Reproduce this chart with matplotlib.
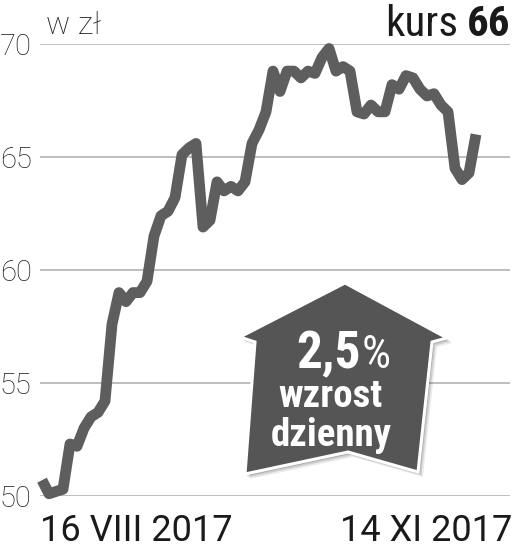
import matplotlib.pyplot as plt
from matplotlib import font_manager as fm
from matplotlib.patches import Polygon

# kurs zamkniecia, 16 VIII - 14 XI 2017 (odczyt z wykresu)
price = [50.7, 50.1, 50.2, 50.3, 52.3, 52.2, 53.0, 53.5, 53.7, 54.2,
         57.6, 59.0, 58.6, 59.0, 59.0, 59.5, 61.5, 62.4, 62.6, 63.2,
         65.1, 65.4, 65.6, 61.9, 62.2, 63.9, 63.5, 63.7, 63.5, 63.9,
         65.6, 66.2, 67.0, 68.8, 67.9, 68.8, 68.8, 68.5, 68.8, 68.7,
         69.4, 69.8, 68.8, 69.0, 68.8, 67.0, 66.9, 67.3, 67.0, 67.0,
         68.2, 68.0, 68.6, 68.5, 68.0, 67.7, 67.8, 67.3, 67.0, 64.5,
         64.0, 64.3, 66.0]
yticks = [50, 55, 60, 65, 70]
date_first = '16 VIII 2017'
date_last = '14 XI 2017'
unit = 'w zł'
kurs_label = 'kurs'
kurs_value = '66'
change = '2,5'
change_lines = ['wzrost', 'dzienny']

W, H = 514, 549

# waski krój do napisow; jesli go brak - DejaVu w mniejszym rozmiarze
have = {f.name for f in fm.fontManager.ttflist}
narrow = 'DejaVu Sans'
for n in ['Roboto Condensed', 'Archivo Narrow', 'Asap Condensed',
          'Liberation Sans Narrow']:
    if n in have:
        narrow = n
        break
k = 1.0 if narrow != 'DejaVu Sans' else 0.78
light = ['Roboto', 'DejaVu Sans']


def fx(x):
    return x / W


def fy(y):
    return 1 - y / H


fig = plt.figure(figsize=(W / 100, H / 100), dpi=100)
ax = fig.add_axes([fx(40), 53 / H, 470 / W, 452 / H])

ax.plot(range(len(price)), price, color='#5e5e5e', lw=7.8,
        solid_joinstyle='round', solid_capstyle='butt', clip_on=False, zorder=3)
for y in yticks:
    ax.axhline(y, color='#acacac', lw=1.1, zorder=1)

ax.set_ylim(50, 70)
ax.set_xlim(-2 / 7, 62 + 34 / 7)
ax.set_xticks([])
ax.set_yticks(yticks)
ax.set_yticklabels([str(t) for t in yticks], family=light, fontweight='light',
                   fontsize=21, color='#222222')
ax.tick_params(axis='y', length=0, pad=6)
for s in ax.spines.values():
    s.set_visible(False)

# naglowek
fig.text(fx(46), fy(34), unit, family=light, fontweight='light', fontsize=23,
         color='#1e1e1e', ha='left', va='baseline')
fig.text(fx(458), fy(36), kurs_label, family=narrow, fontsize=31 * k,
         color='#1a1a1a', ha='right', va='baseline')
fig.text(fx(510), fy(36), kurs_value, family=narrow, fontweight='bold',
         fontsize=31 * k, color='#1a1a1a', ha='right', va='baseline')

# daty
fig.text(fx(40), fy(541), date_first, family=light, fontsize=26,
         color='#1a1a1a', ha='left', va='baseline')
fig.text(fx(512), fy(541), date_last, family=light, fontsize=26,
         color='#1a1a1a', ha='right', va='baseline')

# strzalka
badge = [(345, 283), (447, 338), (432, 342), (418, 472), (348, 452),
         (245, 474), (255, 342), (240, 337)]
for off, a in [(5, 0.08), (3.5, 0.12), (2, 0.18)]:
    fig.patches.append(Polygon([(fx(x + off), fy(y + off)) for x, y in badge],
                               closed=True, transform=fig.transFigure,
                               facecolor='#000000', edgecolor='none',
                               alpha=a, zorder=5))
fig.patches.append(Polygon([(fx(x), fy(y)) for x, y in badge], closed=True,
                           transform=fig.transFigure, facecolor='#555556',
                           edgecolor='white', lw=2.2, joinstyle='miter',
                           zorder=6))

fig.text(fx(361), fy(368), change, family=narrow, fontweight='bold',
         fontsize=37 * k, color='white', ha='right', va='baseline', zorder=7)
fig.text(fx(362), fy(368), '%', family=narrow, fontsize=33 * k,
         color='white', ha='left', va='baseline', zorder=7)
fig.text(fx(330), fy(407), change_lines[0], family=narrow, fontweight='bold',
         fontsize=28 * k, color='white', ha='center', va='baseline', zorder=7)
fig.text(fx(331), fy(446), change_lines[1], family=narrow, fontweight='bold',
         fontsize=28 * k, color='white', ha='center', va='baseline', zorder=7)

fig.savefig('out.png', dpi=100)
